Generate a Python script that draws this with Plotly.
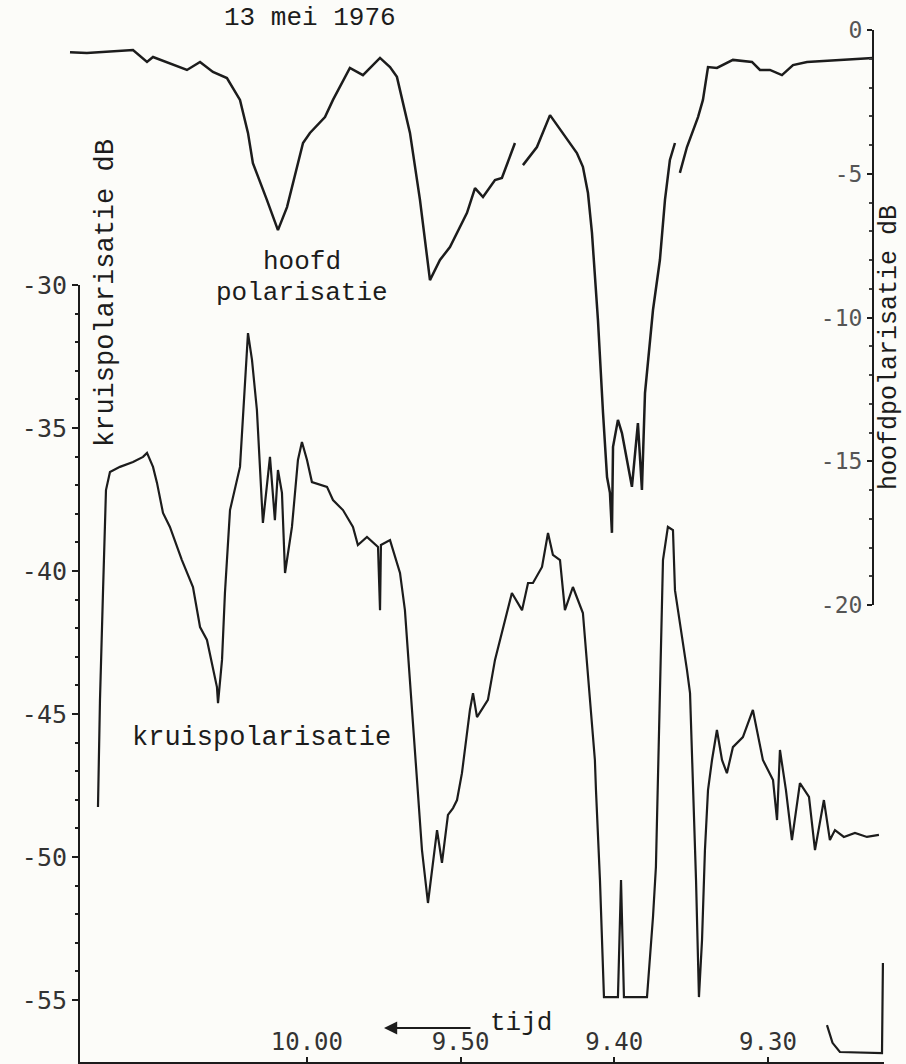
import plotly.graph_objects as go

# time in minutes after 9:00 (60 = 10.00), time runs right -> left
hoofd_tijd = [75.41, 74.31, 71.31, 70.40, 70.01, 67.80, 66.95, 66.11, 65.20, 64.35, 63.83, 63.51,
              62.60, 61.88, 61.29, 60.90, 60.25, 59.80, 58.82, 58.30, 57.20, 56.35, 55.24, 54.59,
              54.14, 53.29, 52.64, 51.99, 51.34, 50.69, 49.58, 49.06, 48.54, 47.76, 47.31, 46.46,
              None,
              45.94, 45.03, 44.18, 43.34, 42.43, 42.04, 41.71, 41.45, 41.26, 41.06, 40.73, 40.47,
              40.28, 40.15, 40.08, 39.76, 39.50, 38.85, 38.46, 38.20, 38.00, 37.48, 37.03, 36.70,
              36.38, 36.05,
              None,
              35.73, 35.27, 34.55, 34.23, 33.90, 33.32, 32.28, 31.04, 30.52, 29.87, 29.09, 28.37,
              27.46, 25.32, 23.17]
hoofd_db = [-0.77, -0.80, -0.70, -1.11, -0.94, -1.39, -1.11, -1.46, -1.67, -2.43, -3.58, -4.63,
            -5.91, -6.96, -6.16, -5.32, -3.93, -3.58, -3.03, -2.43, -1.32, -1.57, -0.97, -1.29,
            -1.63, -3.58, -5.91, -8.70, -8.00, -7.55, -6.36, -5.50, -5.81, -5.22, -5.15, -3.93,
            None,
            -4.70, -4.07, -2.96, -3.58, -4.28, -4.76, -5.67, -7.06, -8.45, -10.09, -13.32, -15.55,
            -16.10, -17.49, -14.50, -13.56, -14.02, -15.89, -13.67, -16.00, -12.63, -9.74, -8.00, -5.91,
            -4.52, -3.93,
            None,
            -4.97, -4.07, -3.03, -2.43, -1.29, -1.32, -1.04, -1.11, -1.39, -1.39, -1.57, -1.22,
            -1.11, -1.04, -0.97]

kruis_tijd = [73.59, 73.46, 73.26, 73.07, 72.81, 72.16, 71.31, 70.66, 70.40, 70.01, 69.75, 69.36,
              68.91, 68.13, 67.41, 66.95, 66.50, 65.85, 65.78, 65.52, 65.33, 65.00, 64.35, 63.90,
              63.83, 63.57, 63.25, 62.86, 62.40, 62.08, 61.88, 61.62, 61.42, 60.97, 60.58, 60.32,
              59.99, 59.67, 58.69, 58.30, 57.65, 57.00, 56.68, 56.09, 55.37, 55.24, 55.18, 54.59,
              53.94, 53.62, 53.29, 52.84, 52.51, 52.12, 51.53, 51.21, 50.82, 50.49, 50.23, 49.91,
              49.39, 49.19, 48.93, 48.22, 47.76, 46.66, 46.00, 45.61, 45.29, 44.70, 44.31, 43.99,
              43.53, 43.21, 42.69, 42.04, 41.78, 41.45, 41.26, 41.19, 40.93, 40.67, 39.76, 39.56,
              39.37, 37.87, 37.48, 37.29, 37.09, 36.83, 36.51, 36.18, 36.05, 35.92, 35.27, 35.07,
              34.88, 34.68, 34.49, 34.29, 34.10, 33.90, 33.64, 33.32, 32.99, 32.67, 32.28, 31.63,
              30.98, 30.33, 29.67, 29.41, 29.22, 28.83, 28.44, 27.92, 27.33, 26.94, 26.36, 25.97,
              25.64, 25.06, 24.34, 23.56, 22.78,
              None,
              26.16, 25.80, 25.32, 22.58, 22.52]
kruis_db = [-48.25, -44.51, -40.67, -37.17, -36.54, -36.36, -36.19, -36.01, -35.87, -36.36, -36.92, -37.97,
            -38.46, -39.62, -40.56, -41.96, -42.41, -44.06, -44.62, -43.11, -40.77, -37.87, -36.36, -32.62,
            -31.68, -32.62, -34.37, -38.32, -36.01, -38.22, -36.47, -37.27, -40.07, -38.46, -36.12, -35.49,
            -36.12, -36.89, -37.06, -37.52, -37.87, -38.46, -39.09, -38.81, -39.16, -41.37, -39.09, -38.92,
            -40.07, -41.37, -43.81, -47.31, -49.76, -51.61, -49.06, -50.21, -48.53, -48.29, -48.01, -47.07,
            -44.86, -44.27, -45.11, -44.51, -43.11, -40.77, -41.37, -40.42, -40.42, -39.86, -38.67, -39.44,
            -39.62, -41.37, -40.56, -41.47, -43.11, -45.46, -46.61, -47.66, -50.81, -54.90, -54.90, -50.81,
            -54.90, -54.90, -52.10, -50.35, -45.91, -39.62, -38.46, -38.57, -40.67, -41.12, -43.46, -44.27,
            -47.31, -50.81, -54.90, -52.91, -49.76, -47.66, -46.61, -45.56, -46.61, -47.07, -46.16, -45.81,
            -44.86, -46.61, -47.31, -48.71, -46.26, -47.66, -49.41, -47.42, -47.90, -49.76, -48.01, -49.41,
            -49.06, -49.30, -49.16, -49.30, -49.23,
            None,
            -55.88, -56.50, -56.82, -56.86, -53.71]

tijd_ticks = [60, 50, 40, 30]
tijd_labels = ["10.00", "9.50", "9.40", "9.30"]
kruis_ticks = [-30, -35, -40, -45, -50, -55]
hoofd_ticks = [0, -5, -10, -15, -20]

INK = "#1c1c1c"
BG = "#fcfcf9"
MONO = "Liberation Mono"
TICKF = "DejaVu Sans Mono"

fig = go.Figure()
fig.add_trace(go.Scatter(x=kruis_tijd, y=kruis_db, mode="lines", xaxis="x", yaxis="y",
                         line=dict(color=INK, width=2.2), connectgaps=False, showlegend=False,
                         hoverinfo="skip"))
fig.add_trace(go.Scatter(x=hoofd_tijd, y=hoofd_db, mode="lines", xaxis="x2", yaxis="y2",
                         line=dict(color=INK, width=2.5), connectgaps=False, showlegend=False,
                         hoverinfo="skip"))

L, R, T, B = 66, 22, 20, 2
W, H = 906, 1064
pw, ph = W - L - R, H - T - B


def px(xp):
    return (xp - L) / pw


def py(yp):
    return (H - B - yp) / ph


fig.update_layout(
    template="none",
    width=W, height=H,
    margin=dict(l=L, r=R, t=T, b=B, autoexpand=False),
    paper_bgcolor=BG, plot_bgcolor="rgba(0,0,0,0)",
    xaxis=dict(domain=[px(80), 1], range=[74.76, 22.45], anchor="y", automargin=False,
               showgrid=False, zeroline=False,
               showline=True, linecolor=INK, linewidth=2, mirror=False,
               tickvals=tijd_ticks, ticktext=tijd_labels,
               ticks="inside", ticklen=5, tickwidth=2, tickcolor=INK,
               ticklabelposition="inside", ticklabelstandoff=4,
               tickfont=dict(family=TICKF, size=24, color="#333")),
    xaxis2=dict(domain=[0, 1], range=[75.67, 22.45], anchor="y2", visible=False,
                automargin=False),
    yaxis=dict(domain=[0, py(285)], range=[-57.17, -30], anchor="x", side="left",
               automargin=False,
               showgrid=False, zeroline=False, showline=True, linecolor=INK, linewidth=2,
               tickvals=kruis_ticks, ticktext=[str(v) for v in kruis_ticks],
               ticks="outside", ticklen=6, tickwidth=2, tickcolor=INK,
               tickfont=dict(family=TICKF, size=25, color="#333"),
               minor=dict(dtick=1, ticks="outside", ticklen=3, tickwidth=2, tickcolor=INK)),
    yaxis2=dict(domain=[py(605), py(30)], range=[-20, 0], anchor="free", position=px(873),
                side="left", automargin=False,
                showgrid=False, zeroline=False, showline=True, linecolor=INK, linewidth=2,
                tickvals=hoofd_ticks, ticktext=[str(v) for v in hoofd_ticks],
                ticks="outside", ticklen=5, tickwidth=2, tickcolor=INK,
                tickfont=dict(family=TICKF, size=23, color="#555"),
                minor=dict(dtick=1, ticks="outside", ticklen=3, tickwidth=2, tickcolor="#444")),
)

ann = [
    dict(text="13 mei 1976", x=px(310), y=py(18), size=26),
    dict(text="hoofd", x=px(302), y=py(262), size=26),
    dict(text="polarisatie", x=px(302), y=py(293), size=26),
    dict(text="kruispolarisatie", x=px(261), y=py(738), size=27),
    dict(text="kruispolarisatie dB", x=px(106), y=py(293), size=27, angle=-90),
    dict(text="hoofdpolarisatie dB", x=px(890), y=py(348), size=25, angle=-90),
    dict(text="tijd", x=px(521), y=py(1023), size=26),
]
for a in ann:
    fig.add_annotation(text=a["text"], x=a["x"], y=a["y"], xref="paper", yref="paper",
                       xanchor="center", yanchor="middle", showarrow=False,
                       textangle=a.get("angle", 0),
                       font=dict(family=MONO, size=a["size"], color=INK))

# time arrow pointing left
fig.add_annotation(text="", x=px(384), y=py(1028), xref="paper", yref="paper",
                   ax=88, ay=0, showarrow=True, arrowhead=2, arrowsize=1.2,
                   arrowwidth=2.2, arrowcolor=INK)

fig.write_html("out.html")
